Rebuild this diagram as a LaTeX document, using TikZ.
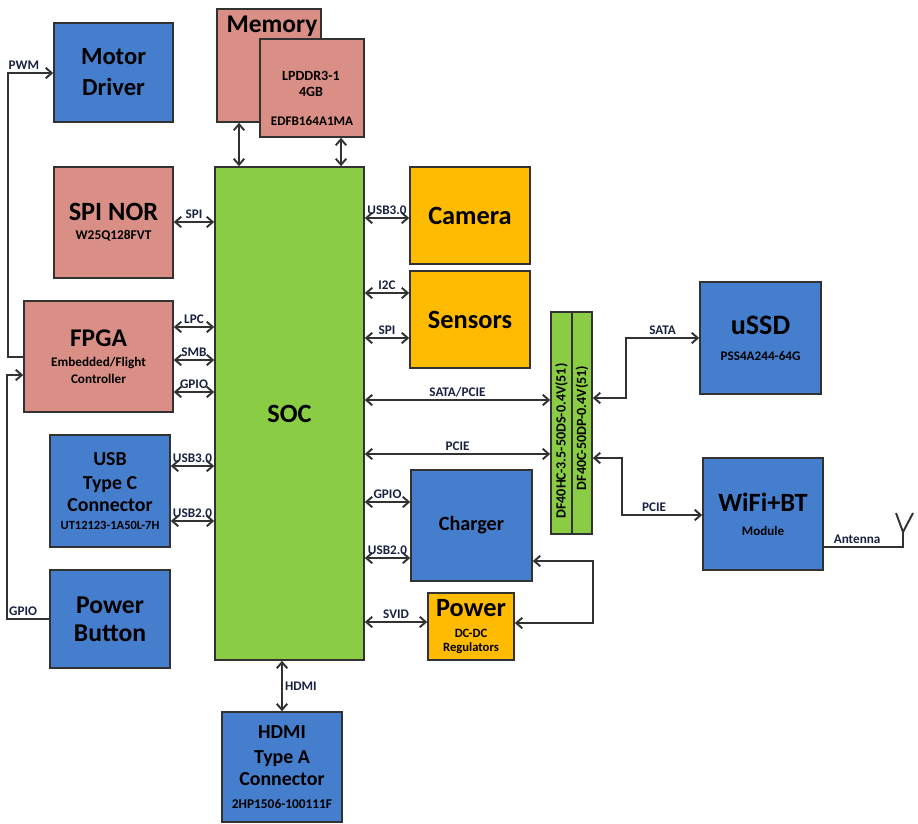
\documentclass[tikz,border=0pt]{standalone}
\usepackage{fontspec}
\setmainfont{Carlito}
\usepackage{tikz}
\usetikzlibrary{arrows.meta}
\usepackage{xcolor}
\definecolor{ColBlue}{RGB}{70,126,206}
\definecolor{ColPink}{RGB}{217,142,134}
\definecolor{ColGreen}{RGB}{138,204,68}
\definecolor{ColOrange}{RGB}{255,187,0}
\definecolor{ColLine}{RGB}{50,50,50}
\definecolor{ColLabel}{RGB}{24,34,64}
\newcommand{\FSz}[2]{\fontsize{#1}{#2}\selectfont}
\tikzset{>={Straight Barb[length=1.2mm,width=2.1mm]}}
\tikzset{Size/.style 2 args={minimum width=#1*0.02cm,minimum height=#2*0.02cm}}
\tikzstyle{Block}=[draw=ColLine,line width=.9pt,inner sep=0pt,align=center]
\tikzstyle{BlockBlue}=[Block,fill=ColBlue]
\tikzstyle{BlockPink}=[Block,fill=ColPink]
\tikzstyle{BlockGreen}=[Block,fill=ColGreen]
\tikzstyle{BlockOrange}=[Block,fill=ColOrange]
\tikzstyle{BlockText}=[inner sep=0pt,align=center]
\tikzstyle{Bus}=[ColLine,line width=1.1pt,<->]
\tikzstyle{BusTo}=[ColLine,line width=1.1pt,->]
\tikzstyle{Wire}=[ColLine,line width=1.1pt]
\tikzstyle{BusLabel}=[text=ColLabel,font=\bfseries\FSz{7.5}{8},inner sep=1.2pt]

\begin{document}
\begin{tikzpicture}[x=0.02cm,y=-0.02cm]
        \useasboundingbox(0,0)rectangle(918,823);
        \node[BlockBlue,Size={119}{99},font=\bfseries\FSz{14}{17.6}](MotorDrv)at(113.5,72.5){Motor\\Driver};
        \node[BlockPink,Size={104}{113}](Mem)at(269,65.5){};
        \node[BlockPink,Size={104}{98}](Lpddr)at(312,88){};
        \node[BlockText,font=\bfseries\FSz{14.5}{17},anchor=base](MemTxt)at(272,32){Memory};
        \node[BlockText,font=\bfseries\FSz{8}{9}](LpddrTxt)at(311,84){LPDDR3-1\\4GB};
        \node[BlockText,font=\bfseries\FSz{7.5}{9},anchor=base](LpddrPart)at(312,125){EDFB164A1MA};
        \node[BlockGreen,Size={149}{493},font=\bfseries\FSz{15}{18}](Soc)at(289.5,413.5){SOC};
        \node[BlockPink,Size={119}{111},font=\bfseries\FSz{15}{10.8}](SpiNor)at(113.5,222.5){SPI NOR\\\FSz{7.6}{9}W25Q128FVT};
        \node[BlockPink,Size={149}{111},font=\bfseries\FSz{14.5}{9.6}](Fpga)at(98.5,356.5){FPGA\\[1.7pt]\FSz{7.5}{9}Embedded/Flight\\\FSz{7.5}{9}Controller};
        \node[BlockBlue,Size={120}{112},font=\bfseries\FSz{11.3}{12.5}](UsbC)at(110,491){USB\\[1.1pt]Type C\\Connector\\[-2.3pt]\FSz{7.1}{9}UT12123-1A50L-7H};
        \node[BlockBlue,Size={120}{98},font=\bfseries\FSz{14.6}{15.7}](PwrBtn)at(110,619){Power\\Button};
        \node[BlockBlue,Size={120}{110},font=\bfseries\FSz{11.3}{13}](Hdmi)at(282,767){HDMI\\[1.2pt]Type A\\Connector\\\FSz{7.6}{9}2HP1506-100111F};
        \node[BlockOrange,Size={120}{97},font=\bfseries\FSz{15}{18}](Camera)at(470,215.5){Camera};
        \node[BlockOrange,Size={120}{97},font=\bfseries\FSz{15}{18}](Sensors)at(470,319.5){Sensors};
        \node[BlockBlue,Size={121}{111},font=\bfseries\FSz{11.5}{14}](Charger)at(471.5,525.5){Charger};
        \node[BlockOrange,Size={86}{67},font=\bfseries\FSz{15}{7.8}](Power)at(471,626.5){Power\\[3.9pt]\FSz{7.2}{9}DC-DC\\\FSz{7.2}{9}Regulators};
        \node[BlockGreen,Size={21}{222}](StripA)at(561.5,423){};
        \node[BlockGreen,Size={20}{222}](StripB)at(582,423){};
        \node[BlockText,rotate=90,font=\bfseries\FSz{8}{9}](StripTxtA)at(561.5,441){DF40HC-3.5-50DS-0.4V(51)};
        \node[BlockText,rotate=90,font=\bfseries\FSz{8}{9}](StripTxtB)at(582,428){DF40C-50DP-0.4V(51)};
        \node[BlockBlue,Size={121}{112},font=\bfseries\FSz{16}{14.7}](Ussd)at(760.5,338){uSSD\\\FSz{7.5}{9}PSS4A244-64G};
        \node[BlockBlue,Size={120}{112},font=\bfseries\FSz{15}{13.6}](Wifi)at(763,514){WiFi+BT\\\FSz{7.4}{9}Module};
        \draw[BusTo](Fpga.west|-0,357)--(8,357)--(8,73)--node[BusLabel,above,pos=.35]{PWM}(MotorDrv.west|-0,73);
        \draw[BusTo](PwrBtn.west|-0,619)--node[BusLabel,above,pos=.62]{GPIO}(7,619)--(7,375)--(Fpga.west|-0,375);
        \draw[Bus](SpiNor.east|-0,222)--node[BusLabel,above]{SPI}(Soc.west|-0,222);
        \draw[Bus](Fpga.east|-0,327)--node[BusLabel,above]{LPC}(Soc.west|-0,327);
        \draw[Bus](Fpga.east|-0,360)--node[BusLabel,above]{SMB}(Soc.west|-0,360);
        \draw[Bus](Fpga.east|-0,392)--node[BusLabel,above]{GPIO}(Soc.west|-0,392);
        \draw[Bus](UsbC.east|-0,466)--node[BusLabel,above]{USB3.0}(Soc.west|-0,466);
        \draw[Bus](UsbC.east|-0,521)--node[BusLabel,above]{USB2.0}(Soc.west|-0,521);
        \draw[Bus](Mem.south-|239,0)--(Soc.north-|239,0);
        \draw[Bus](Lpddr.south-|341,0)--(Soc.north-|341,0);
        \draw[Bus](Soc.south-|Hdmi.north)--node[BusLabel,right]{HDMI}(Hdmi.north);
        \draw[Bus](Soc.east|-0,218)--node[BusLabel,above]{USB3.0}(Camera.west|-0,218);
        \draw[Bus](Soc.east|-0,293)--node[BusLabel,above]{I2C}(Sensors.west|-0,293);
        \draw[Bus](Soc.east|-0,338)--node[BusLabel,above]{SPI}(Sensors.west|-0,338);
        \draw[Bus](Soc.east|-0,400)--node[BusLabel,above]{SATA/PCIE}(StripA.west|-0,400);
        \draw[Bus](Soc.east|-0,454)--node[BusLabel,above]{PCIE}(StripA.west|-0,454);
        \draw[Bus](Soc.east|-0,502)--node[BusLabel,above]{GPIO}(Charger.west|-0,502);
        \draw[Bus](Soc.east|-0,558)--node[BusLabel,above]{USB2.0}(Charger.west|-0,558);
        \draw[Bus](Soc.east|-0,622)--node[BusLabel,above]{SVID}(Power.west|-0,622);
        \draw[Bus](Power.east|-0,623)--(593,623)--(593,561)--(Charger.east|-0,561);
        \draw[Bus](StripB.east|-0,398)--(626,398)--(626,338)--node[BusLabel,above]{SATA}(Ussd.west|-0,338);
        \draw[Bus](StripB.east|-0,458)--(622,458)--(622,515)--node[BusLabel,above,pos=.4]{PCIE}(Wifi.west|-0,515);
        \coordinate(AntBase)at(903,532);
        \coordinate(AntLeft)at(896,513);
        \coordinate(AntRight)at(913,513);
        \draw[Wire](Wifi.east|-0,547)--node[BusLabel,above,pos=.42]{Antenna}(903,547)--(AntBase);
        \draw[Wire](AntLeft)--(AntBase)--(AntRight);
    \end{tikzpicture}
\end{document}
